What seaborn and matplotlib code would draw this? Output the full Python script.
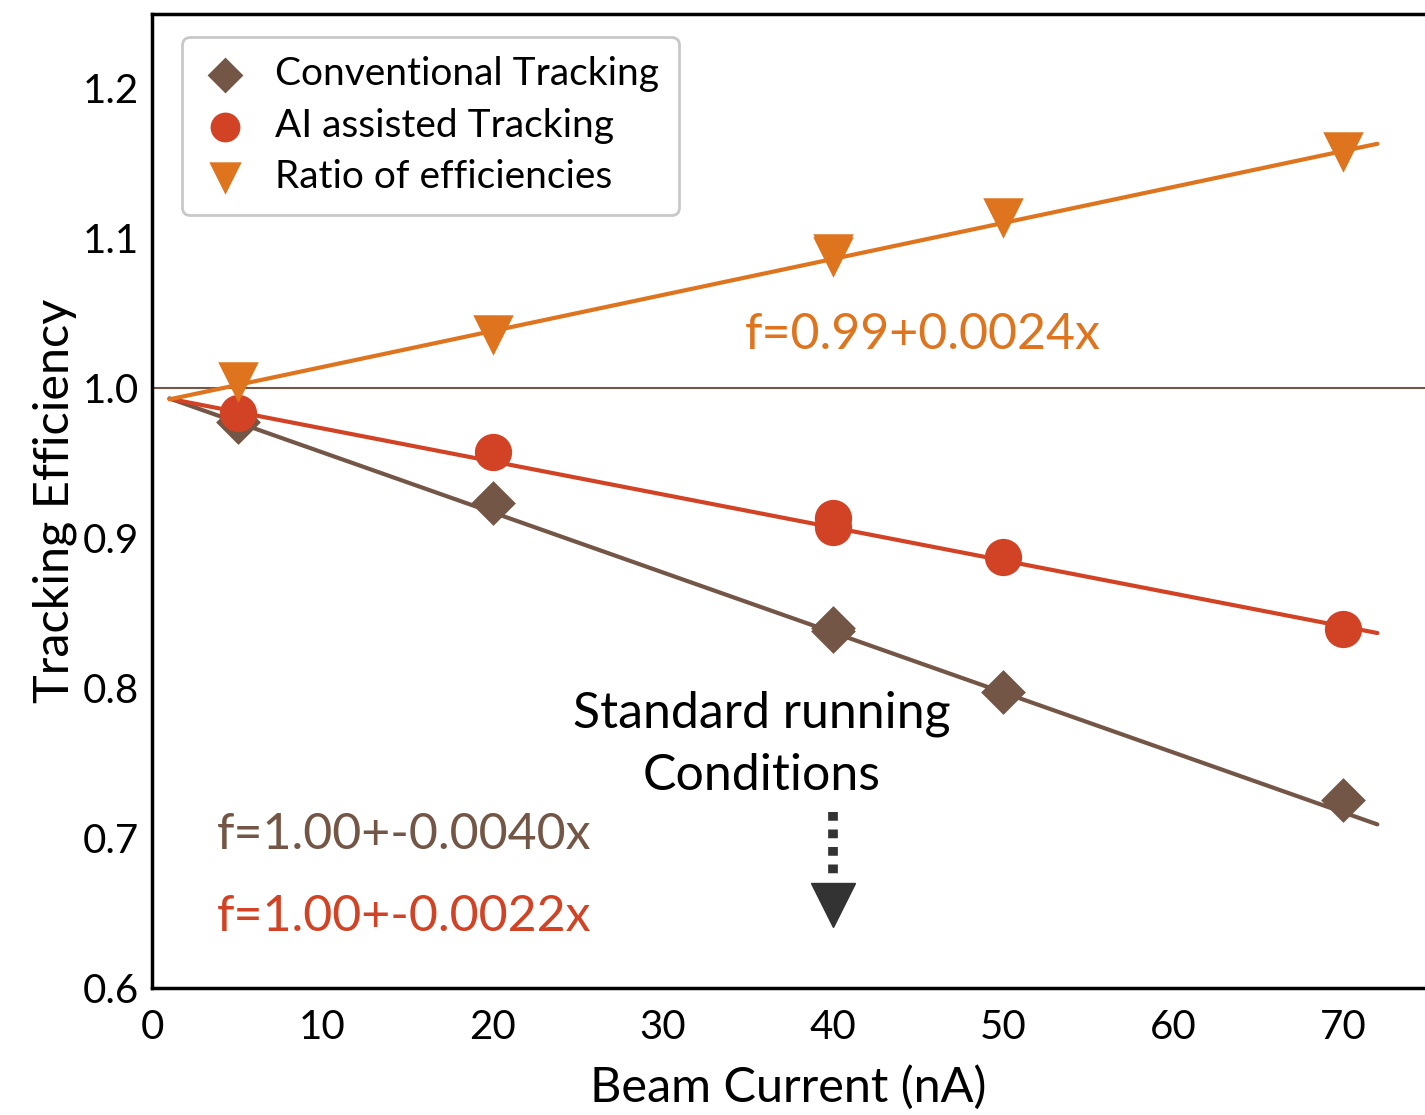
import numpy as np
import matplotlib.pyplot as plt
import seaborn as sns

# -----------------------------
# Data
# -----------------------------
beam_current = [5, 20, 40, 40, 50, 70]
conventional = [0.977, 0.923, 0.838, 0.840, 0.797, 0.725]
ai_assisted = [0.983, 0.957, 0.913, 0.907, 0.887, 0.839]
ratio = [1.004, 1.035, 1.087, 1.089, 1.113, 1.157]

# linear fits: intercept, slope
fit_conventional = (0.997, -0.0040)
fit_ai = (0.995, -0.0022)
fit_ratio = (0.990, 0.0024)
fit_range = (1.0, 72.0)

brown = "#735646"
red = "#D24325"
orange = "#DE741E"

sns.set_style("white")
plt.rcParams["font.family"] = ["Lato", "DejaVu Sans"]
plt.rcParams["text.color"] = "black"
plt.rcParams["axes.labelcolor"] = "black"
plt.rcParams["xtick.color"] = "black"
plt.rcParams["ytick.color"] = "black"

fig = plt.figure(figsize=(14.25, 11.15), dpi=100)
ax = fig.add_axes([0.107, 0.114, 0.893, 0.873])

# -----------------------------
# Fit lines
# -----------------------------
xf = np.linspace(*fit_range, 50)
for (b, m), c in [(fit_conventional, brown), (fit_ai, red), (fit_ratio, orange)]:
    sns.lineplot(x=xf, y=b + m * xf, color=c, lw=3, ax=ax, zorder=2)

ax.axhline(1.0, color=brown, lw=1.5, zorder=1)

# -----------------------------
# Data points
# -----------------------------
series = [
    ("Conventional Tracking", conventional, brown, "D", 520),
    ("AI assisted Tracking", ai_assisted, red, "o", 720),
    ("Ratio of efficiencies", ratio, orange, "v", 850),
]
for label, vals, c, mk, size in series:
    sns.scatterplot(x=beam_current, y=vals, color=c, marker=mk, s=size,
                    linewidth=0, label=label, ax=ax, zorder=3)

# -----------------------------
# Annotations
# -----------------------------
ax.text(34.8, 1.035, "f=0.99+0.0024x", color=orange, fontsize=36, va="center")
ax.text(3.8, 0.702, "f=1.00+-0.0040x", color=brown, fontsize=36, va="center")
ax.text(3.8, 0.647, "f=1.00+-0.0022x", color=red, fontsize=36, va="center")
ax.text(35.8, 0.762, "Standard running\nConditions", fontsize=36,
        ha="center", va="center", linespacing=1.45)

ax.plot([40, 40], [0.717, 0.672], color="#333333", lw=7, ls=(0, (0.9, 0.9)),
        solid_capstyle="butt", dash_capstyle="butt")
ax.plot([40], [0.655], marker="v", color="#333333", markersize=32, lw=0)

# -----------------------------
# Axes styling
# -----------------------------
ax.set_xlim(0, 74.8)
ax.set_ylim(0.6, 1.249)
ax.set_xticks([0, 10, 20, 30, 40, 50, 60, 70])
ax.set_yticks([0.6, 0.7, 0.8, 0.9, 1.0, 1.1, 1.2])
ax.set_yticklabels(["0.6", "0.7", "0.8", "0.9", "1.0", "1.1", "1.2"])
ax.tick_params(direction="in", length=13, width=2, labelsize=29)
ax.tick_params(axis="x", pad=15)
ax.tick_params(axis="y", pad=10)
for side in ["left", "bottom", "top"]:
    ax.spines[side].set_linewidth(2.5)
    ax.spines[side].set_color("black")
ax.spines["right"].set_visible(False)

ax.set_xlabel("Beam Current (nA)", fontsize=35, labelpad=14)
ax.set_ylabel("Tracking Efficiency", fontsize=35, labelpad=4)

leg = ax.legend(loc="upper left", fontsize=28, frameon=True, fancybox=True,
                edgecolor="#bbbbbb", markerscale=0.8, handlelength=1.2,
                handletextpad=0.7, borderpad=0.5, labelspacing=0.4,
                borderaxespad=0, bbox_to_anchor=(0.023, 0.977))
leg.get_frame().set_linewidth(2)

fig.savefig("out.png", dpi=100)
